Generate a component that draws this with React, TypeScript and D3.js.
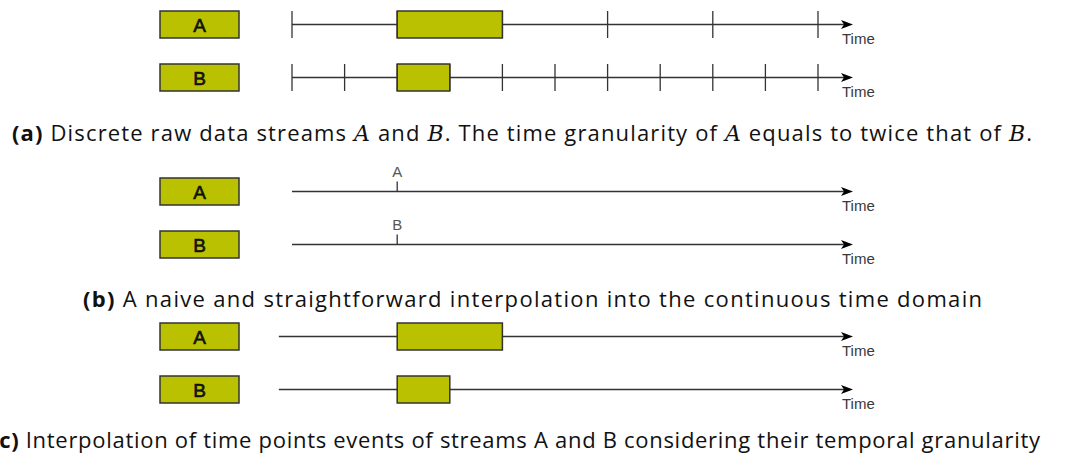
import { scaleLinear } from 'd3';

// streams and their temporal granularity (in units of B's granularity)
const streams = ['A', 'B'];
const granularity = [2, 1];
const eventStart = [2, 2];
const eventEnd = [4, 3];
const timeMax = 10;
const pointTime = 2;

const captions = [
  [
    { t: '(a)', b: true },
    { t: ' Discrete raw data streams ' },
    { t: 'A', i: true },
    { t: ' and ' },
    { t: 'B', i: true },
    { t: '. The time granularity of ' },
    { t: 'A', i: true },
    { t: ' equals to twice that of ' },
    { t: 'B', i: true },
    { t: '.' },
  ],
  [{ t: '(b)', b: true }, { t: ' A naive and straightforward interpolation into the continuous time domain' }],
  [{ t: '(c)', b: true }, { t: ' Interpolation of time points events of streams A and B considering their temporal granularity' }],
];

const FILL = '#b9c100';
const LINE = '#333';

export default function App() {
  const x = scaleLinear().domain([0, timeMax]).range([292, 818]);
  const tip = 853;
  const boxH = 27;
  const rowY = [
    [24.5, 77.5],
    [191.5, 244.5],
    [336.5, 389.5],
  ];
  const capPos = [
    { x: 12, y: 141, len: 1020 },
    { x: 83, y: 307, len: 899 },
    { x: -9, y: 448, len: 1049 },
  ];

  const arrow = (y: number, x0: number) => (
    <g>
      <line x1={x0} x2={tip - 8} y1={y} y2={y} stroke={LINE} strokeWidth={1.3} />
      <path d={`M${tip - 12},${y - 4.5}L${tip},${y}L${tip - 12},${y + 4.5}L${tip - 9},${y}Z`} fill="#000" />
      <text x={tip - 11} y={y + 19} fontFamily="Liberation Sans, Arial" fontSize={15} fill="#3a3a3a">
        Time
      </text>
    </g>
  );

  const labelBox = (y: number, name: string) => (
    <g>
      <rect x={160} y={y - boxH / 2} width={79} height={boxH} fill={FILL} stroke={LINE} strokeWidth={1.5} />
      <text x={199.5} y={y + 7} textAnchor="middle" fontFamily="Liberation Sans, Arial" fontSize={19} fill="#111" stroke="#111" strokeWidth={0.6}>
        {name}
      </text>
    </g>
  );

  return (
    <svg width={1065} height={462} style={{ position: 'absolute', left: 0, top: 0, background: '#fff' }}>
      {/* (a) raw streams */}
      {streams.map((s, k) => {
        const y = rowY[0][k];
        const ticks: number[] = [];
        for (let t = 0; t <= timeMax; t += granularity[k]) ticks.push(t);
        return (
          <g key={'a' + s}>
            {labelBox(y, s)}
            {arrow(y, x(0))}
            {ticks.map((t) => (
              <line key={t} x1={x(t)} x2={x(t)} y1={y - boxH / 2} y2={y + boxH / 2} stroke={LINE} strokeWidth={1.3} />
            ))}
            <rect x={x(eventStart[k])} y={y - boxH / 2} width={x(eventEnd[k]) - x(eventStart[k])} height={boxH} fill={FILL} stroke={LINE} strokeWidth={1.5} />
          </g>
        );
      })}
      {/* (b) naive interpolation */}
      {streams.map((s, k) => {
        const y = rowY[1][k];
        return (
          <g key={'b' + s}>
            {labelBox(y, s)}
            {arrow(y, x(0))}
            <line x1={x(pointTime)} x2={x(pointTime)} y1={y - 10} y2={y} stroke={LINE} strokeWidth={1.3} />
            <text x={x(pointTime)} y={y - 15} textAnchor="middle" fontFamily="Liberation Sans, Arial" fontSize={15} fill="#555">
              {s}
            </text>
          </g>
        );
      })}
      {/* (c) granularity-aware interpolation */}
      {streams.map((s, k) => {
        const y = rowY[2][k];
        return (
          <g key={'c' + s}>
            {labelBox(y, s)}
            {arrow(y, x(-0.25))}
            <rect x={x(eventStart[k])} y={y - boxH / 2} width={x(eventEnd[k]) - x(eventStart[k])} height={boxH} fill={FILL} stroke={LINE} strokeWidth={1.5} />
          </g>
        );
      })}
      {captions.map((c, i) => (
        <text
          key={i}
          x={capPos[i].x}
          y={capPos[i].y}
          fontFamily="'Open Sans', 'Noto Sans', sans-serif"
          fontSize={22}
          fill="#111"
          textLength={capPos[i].len}
          lengthAdjust="spacing"
        >
          {c.map((p, j) => (
            <tspan
              key={j}
              fontWeight={p.b ? 'bold' : undefined}
              fontStyle={p.i ? 'italic' : undefined}
              fontFamily={p.i ? "'DejaVu Serif', 'Liberation Serif', serif" : undefined}
            >
              {p.t}
            </tspan>
          ))}
        </text>
      ))}
    </svg>
  );
}
